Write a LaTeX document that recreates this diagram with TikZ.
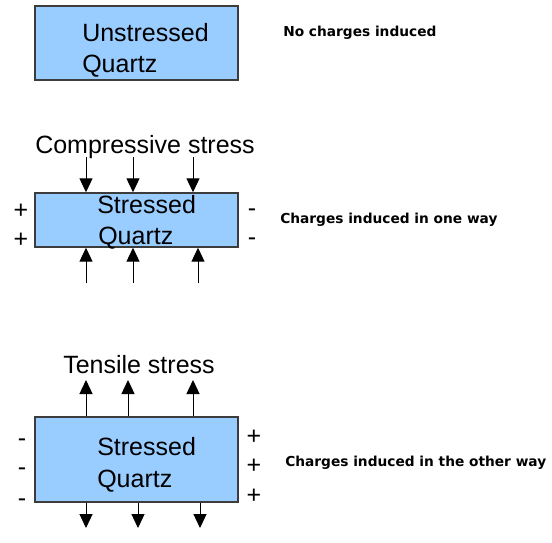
\documentclass[tikz,border=0pt]{standalone}
\usepackage{fontspec}
\setmainfont{Liberation Sans}
\newfontfamily\notefont{DejaVu Sans}
\usetikzlibrary{positioning}
\usetikzlibrary{arrows.meta}
\definecolor{quartzblue}{RGB}{153,204,255}
\definecolor{boxline}{RGB}{60,60,60}
\tikzstyle{every quartz} = []
\tikzstyle{quartz} = [draw=boxline, fill=quartzblue, line width=1.1pt, minimum width=152.25pt, inner sep=0pt, every quartz]
\tikzstyle{qtext} = [anchor=base west, inner sep=0pt, font=\fontsize{18.75}{22}\selectfont]
\tikzstyle{sign} = [anchor=base, inner sep=0pt, font=\fontsize{18.75}{22}\selectfont]
\tikzstyle{note} = [anchor=base west, inner sep=0pt, font=\notefont\bfseries\fontsize{10.3}{12}\selectfont]
\tikzstyle{stress} = [-{Triangle[length=10.5pt,width=9.8pt]}, line width=0.75pt, draw=black]

\begin{document}
\begin{tikzpicture}[x=0.75pt, y=-0.75pt]
    \useasboundingbox (0,0) rectangle (552,542);

    \node[quartz, minimum height=55.5pt] (unstressed) at (136.5,43) {};
    \node[qtext] (unstressedA) at (82,41) {Unstressed};
    \node[qtext] (unstressedB) at (82,73) {Quartz};
    \node[note] (nocharge) at (283,37) {No charges induced};

    \node[qtext] (compressive) at (35,153) {Compressive stress};
    \node[quartz, minimum height=40.5pt] (compressed) at (136.5,220) {};
    \node[qtext] (compressedA) at (97,213) {Stressed};
    \node[qtext] (compressedB) at (98,244) {Quartz};
    \node[sign] (plusA) at (21,218) {+};
    \node[sign] (plusB) at (21,247) {+};
    \node[sign] (minusA) at (252,216) {-};
    \node[sign] (minusB) at (252,245) {-};
    \node[note] (oneway) at (280,223) {Charges induced in one way};

    \coordinate (pushA) at (86,157);
    \coordinate (pushB) at (133,157);
    \coordinate (pushC) at (193,157);
    \coordinate (pushD) at (86,283);
    \coordinate (pushE) at (133,283);
    \coordinate (pushF) at (198,283);
    \draw[stress] (pushA) -- (pushA |- compressed.north);
    \draw[stress] (pushB) -- (pushB |- compressed.north);
    \draw[stress] (pushC) -- (pushC |- compressed.north);
    \draw[stress] (pushD) -- (pushD |- compressed.south);
    \draw[stress] (pushE) -- (pushE |- compressed.south);
    \draw[stress] (pushF) -- (pushF |- compressed.south);

    \node[qtext] (tensile) at (63,373) {Tensile stress};
    \node[quartz, minimum height=63.75pt] (tensed) at (136.5,459.5) {};
    \node[qtext] (tensedA) at (97,455) {Stressed};
    \node[qtext] (tensedB) at (97,487) {Quartz};
    \node[sign] (minusC) at (22,446) {-};
    \node[sign] (minusD) at (22,475) {-};
    \node[sign] (minusE) at (22,506) {-};
    \node[sign] (plusC) at (254,444) {+};
    \node[sign] (plusD) at (254,473) {+};
    \node[sign] (plusE) at (254,503) {+};
    \node[note] (otherway) at (285,466) {Charges induced in the other way};

    \coordinate (pullA) at (86,380);
    \coordinate (pullB) at (128,380);
    \coordinate (pullC) at (193,380);
    \coordinate (pullD) at (86,528);
    \coordinate (pullE) at (138,528);
    \coordinate (pullF) at (200,528);
    \draw[stress] (pullA |- tensed.north) -- (pullA);
    \draw[stress] (pullB |- tensed.north) -- (pullB);
    \draw[stress] (pullC |- tensed.north) -- (pullC);
    \draw[stress] (pullD |- tensed.south) -- (pullD);
    \draw[stress] (pullE |- tensed.south) -- (pullE);
    \draw[stress] (pullF |- tensed.south) -- (pullF);
\end{tikzpicture}
\end{document}
